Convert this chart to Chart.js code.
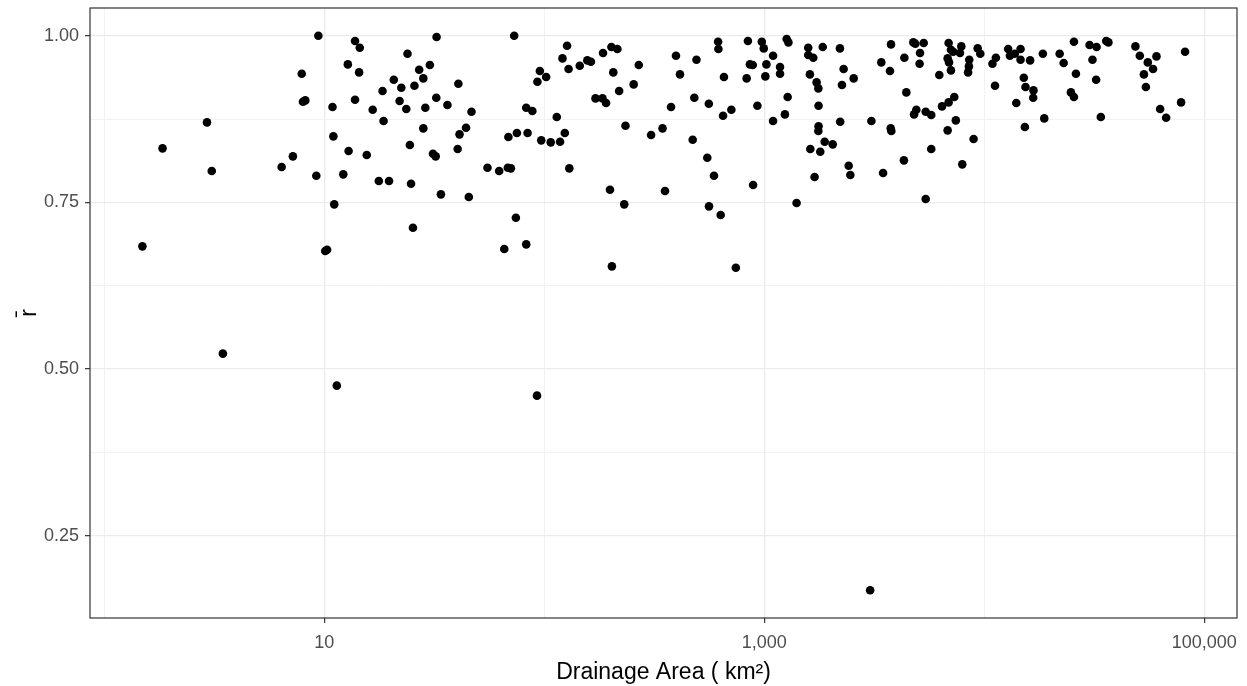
<!DOCTYPE html>
<html lang="en">
<head>
    <meta charset="UTF-8">
    <title>Drainage Area vs r-bar</title>
    <script src="https://cdn.jsdelivr.net/npm/chart.js"></script>
    <style>
        html, body { margin: 0; padding: 0; background: #fff; }
        canvas { display: block; }
    </style>
</head>
<body>
    <canvas id="scatterChart" width="1247" height="686"></canvas>

    <script>
        // drainage area (km2) and mean correlation
        const drainageArea = [
            9.4, 7.9, 8.0, 8.2, 2.93, 1.84, 3.08, 6.4, 7.2, 9.2, 1.49, 10.1, 10.3,
            13.8, 14.5, 32.4, 73.0, 23.9, 12.8, 14.4, 30.2, 27.0, 28.2, 20.7, 25.7, 22.4, 18.4, 40.7,
            10.9, 13.8, 16.6, 22.0, 23.6, 28.8, 32.3, 36.3, 46.7, 82.8, 88.3, 18.6, 11.0, 12.9, 15.6,
            28.2, 24.5, 31.2, 32.1, 41.2, 44.1, 40.4, 68.7, 75.1, 84.0, 12.2, 17.7, 19.7, 24.8, 33.9,
            45.4, 55.2, 62.4, 68.3, 70.5, 11.1, 25.3, 74.3, 65.8, 82.8,
            93.1, 95.5, 102, 127, 121, 129, 145, 157, 163, 185, 202, 215, 206, 269, 255, 219, 171, 184,
            191, 397, 414, 492, 617, 619, 843, 975, 995, 656, 832, 861, 887, 1023, 1012, 481, 560, 377,
            650, 709, 931, 114, 96.9, 107, 118, 124, 234, 306, 345, 473, 130, 551, 591, 890, 199, 354,
            231, 561, 634, 203, 743,
            1097, 1180, 1180, 1265, 1288, 1097, 1242, 1278, 1585, 1585, 1671, 1845, 2209, 1613, 1730,
            1762, 1766, 2296, 2256, 2551, 2215, 1766, 1762, 1620, 1798, 1883, 2048, 1694, 2421, 2463,
            1403, 3070, 3770, 3405, 3730, 4335, 4764, 4864, 5310, 5108, 5086, 4426, 3758, 3783, 4914,
            4800, 5420, 5745, 3470, 4315, 5745, 5420, 6250, 6890, 7060, 7230, 6820, 6920, 7870, 7760,
            7060, 8550, 8520, 8450, 9340, 9600, 7310, 6890, 6430, 7430, 6820, 8950, 7950, 10900, 11300,
            11200,
            12850, 13090, 13780, 14630, 14630, 16170, 18480, 22030, 22970, 25580, 30130, 32430, 35870,
            36700, 31060, 32270, 26120, 24790, 25580, 15140, 15410, 16750, 16700, 13990, 18750, 15310,
            33900, 48700, 50980, 55430, 60700, 58570, 53230, 54330, 81870, 78520, 63070, 67150,
            3.46, 11.4, 92.7, 3030
        ];
        const rBar = [
            1.000, 0.943, 0.901, 0.903, 0.870, 0.831, 0.797, 0.803, 0.819, 0.790, 0.684, 0.677, 0.679,
            0.992, 0.982, 0.998, 1.000, 0.973, 0.957, 0.945, 0.956, 0.949, 0.936, 0.934, 0.925, 0.922, 0.917, 0.928,
            0.893, 0.904, 0.889, 0.902, 0.890, 0.892, 0.907, 0.896, 0.886, 0.892, 0.887, 0.872, 0.849, 0.827, 0.821,
            0.861, 0.836, 0.823, 0.819, 0.852, 0.862, 0.830, 0.848, 0.854, 0.854, 0.792, 0.782, 0.782, 0.778, 0.762,
            0.758, 0.802, 0.797, 0.802, 0.801, 0.747, 0.712, 0.727, 0.680, 0.687,
            0.931, 0.947, 0.938, 0.985, 0.966, 0.950, 0.955, 0.963, 0.961, 0.974, 0.983, 0.980, 0.945, 0.956, 0.927, 0.917, 0.906, 0.906,
            0.899, 0.970, 0.942, 0.964, 0.991, 0.980, 0.992, 0.991, 0.981, 0.938, 0.936, 0.957, 0.956, 0.957, 0.939, 0.907, 0.898, 0.893,
            0.880, 0.889, 0.895, 0.878, 0.843, 0.840, 0.841, 0.854, 0.865, 0.851, 0.861, 0.844, 0.801, 0.817, 0.790, 0.776, 0.769, 0.767,
            0.747, 0.744, 0.731, 0.654, 0.652,
            0.970, 0.953, 0.943, 0.995, 0.990, 0.872, 0.882, 0.908, 0.982, 0.971, 0.967, 0.983, 0.981, 0.942, 0.930,
            0.921, 0.895, 0.950, 0.926, 0.936, 0.871, 0.864, 0.857, 0.830, 0.826, 0.841, 0.837, 0.788, 0.805, 0.791,
            0.749, 0.872, 0.987, 0.960, 0.947, 0.967, 0.990, 0.988, 0.989, 0.974, 0.958, 0.915, 0.861, 0.857, 0.889,
            0.882, 0.886, 0.881, 0.794, 0.813, 0.830, 0.755, 0.941, 0.989, 0.979, 0.976, 0.966, 0.960, 0.984, 0.974,
            0.948, 0.964, 0.954, 0.945, 0.981, 0.973, 0.908, 0.900, 0.894, 0.873, 0.858, 0.845, 0.807, 0.958, 0.967,
            0.925,
            0.980, 0.970, 0.973, 0.980, 0.964, 0.963, 0.973, 0.973, 0.959, 0.991, 0.986, 0.983, 0.992,
            0.990, 0.964, 0.934, 0.943, 0.915, 0.908, 0.937, 0.923, 0.918, 0.907, 0.899, 0.876, 0.863,
            0.878, 0.984, 0.970, 0.960, 0.969, 0.950, 0.942, 0.923, 0.976, 0.900, 0.890, 0.877,
            0.523, 0.475, 0.460, 0.168
        ];

        // axis breaks
        const xMajorTicks = [10, 1000, 100000];
        const xMinorTicks = [1, 100, 10000];
        const yMajorTicks = [0.25, 0.50, 0.75, 1.00];
        const yMinorTicks = [0.375, 0.625, 0.875];

        // axis limits (ggplot's 5% expansion)
        const xMin = 0.861, xMax = 141000;
        const yMin = 0.1264, yMax = 1.0416;

        Chart.defaults.font.family = "'Liberation Sans', Arial, sans-serif";

        const isMajor = (list, v) => list.some(t => Math.abs(t - v) < 1e-9);

        // ggplot-style panel border drawn on top of everything
        const panelBorder = {
            id: 'panelBorder',
            afterDraw(chart) {
                const { ctx, chartArea: a } = chart;
                ctx.save();
                ctx.strokeStyle = '#333333';
                ctx.lineWidth = 1.2;
                ctx.strokeRect(a.left, a.top, a.right - a.left, a.bottom - a.top);
                ctx.restore();
            }
        };

        const ctx = document.getElementById('scatterChart').getContext('2d');
        new Chart(ctx, {
            type: 'scatter',
            data: {
                datasets: [{
                    data: drainageArea.map((a, i) => ({ x: a, y: rBar[i] })),
                    backgroundColor: '#000000',
                    borderColor: '#000000',
                    borderWidth: 0,
                    pointRadius: 4.3,
                    pointHoverRadius: 4.3
                }]
            },
            options: {
                responsive: false,
                animation: false,
                devicePixelRatio: 1,
                layout: { padding: { left: 0, right: 10, top: 8, bottom: 0 } },
                plugins: {
                    legend: { display: false },
                    tooltip: { enabled: false }
                },
                scales: {
                    x: {
                        type: 'logarithmic',
                        min: xMin,
                        max: xMax,
                        afterBuildTicks: s => {
                            s.ticks = [...xMinorTicks, ...xMajorTicks].sort((a, b) => a - b).map(v => ({ value: v }));
                        },
                        afterFit: s => {
                            s.height = 68;
                            s.paddingLeft = 0;
                            s.paddingRight = 0;
                        },
                        border: { display: false },
                        grid: {
                            color: c => isMajor(xMajorTicks, c.tick.value) ? '#EBEBEB' : '#F2F2F2',
                            lineWidth: c => isMajor(xMajorTicks, c.tick.value) ? 1.3 : 1,
                            tickColor: c => isMajor(xMajorTicks, c.tick.value) ? '#333333' : 'rgba(0,0,0,0)',
                            tickLength: 5,
                            tickWidth: 1.2
                        },
                        ticks: {
                            autoSkip: false,
                            maxRotation: 0,
                            padding: 9,
                            color: '#4D4D4D',
                            font: { size: 18 },
                            callback: v => isMajor(xMajorTicks, v) ? v.toLocaleString('en-US') : ''
                        },
                        title: {
                            display: true,
                            text: 'Drainage Area ( km²)',
                            color: '#000000',
                            font: { size: 23 },
                            padding: { top: 0, bottom: 0 }
                        }
                    },
                    y: {
                        type: 'linear',
                        min: yMin,
                        max: yMax,
                        afterBuildTicks: s => {
                            s.ticks = [...yMinorTicks, ...yMajorTicks].sort((a, b) => a - b).map(v => ({ value: v }));
                        },
                        afterFit: s => {
                            s.width = 90;
                            s.paddingTop = 0;
                            s.paddingBottom = 0;
                        },
                        border: { display: false },
                        grid: {
                            color: c => isMajor(yMajorTicks, c.tick.value) ? '#EBEBEB' : '#F2F2F2',
                            lineWidth: c => isMajor(yMajorTicks, c.tick.value) ? 1.3 : 1,
                            tickColor: c => isMajor(yMajorTicks, c.tick.value) ? '#333333' : 'rgba(0,0,0,0)',
                            tickLength: 5,
                            tickWidth: 1.2
                        },
                        ticks: {
                            autoSkip: false,
                            padding: 6,
                            color: '#4D4D4D',
                            font: { size: 18 },
                            callback: v => isMajor(yMajorTicks, v) ? v.toFixed(2) : ''
                        },
                        title: {
                            display: true,
                            text: 'r\u0304',
                            color: '#000000',
                            font: { size: 23 },
                            padding: { top: 16, bottom: 0 }
                        }
                    }
                }
            },
            plugins: [panelBorder]
        });
    </script>
</body>
</html>
